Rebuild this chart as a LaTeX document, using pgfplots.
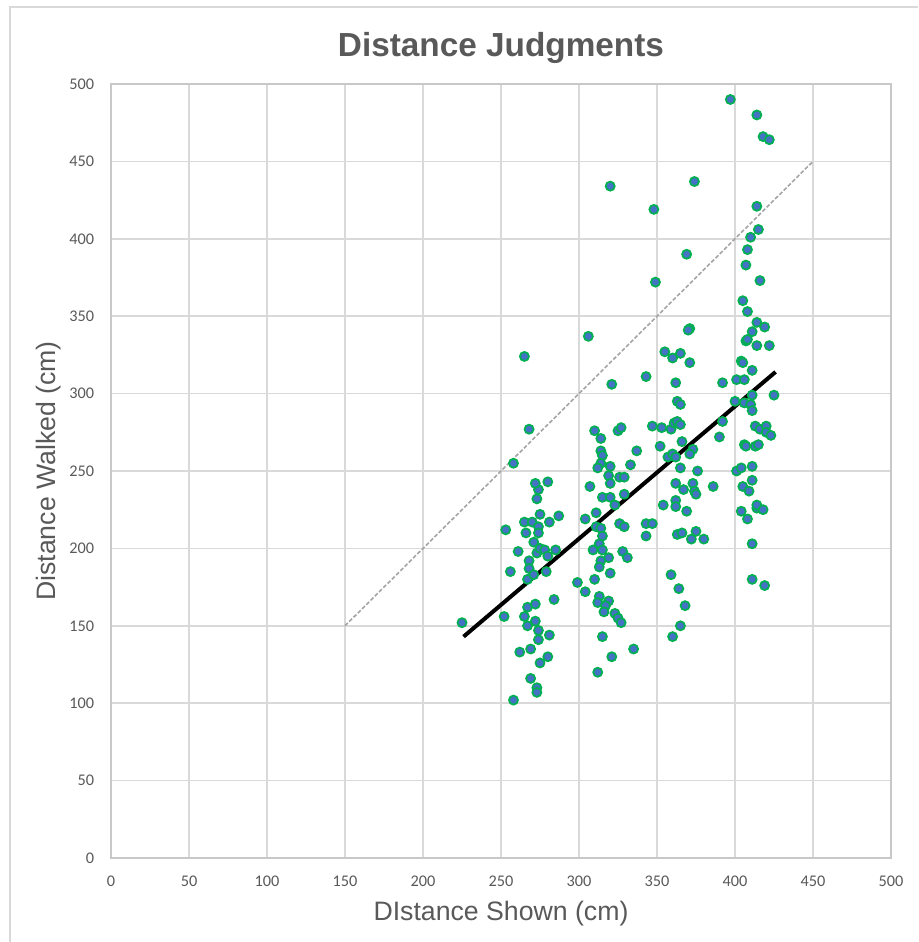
\documentclass[border=0pt]{standalone}
\usepackage{pgfplots}
\pgfplotsset{compat=1.18}
\usepackage{fontspec}
\setmainfont{Carlito}
\newfontfamily\arialf{Liberation Sans}
\definecolor{txt}{HTML}{595959}
\definecolor{gridc}{HTML}{D9D9D9}
\definecolor{axc}{HTML}{C8C8C8}
\definecolor{mfill}{HTML}{4472C4}
\definecolor{medge}{HTML}{00B050}
\definecolor{dashc}{HTML}{A5A5A5}
\begin{document}
\begin{tikzpicture}
\useasboundingbox (-83.25pt,-63pt) rectangle (605.25pt,643.5pt);
\begin{axis}[
  at={(0,0)}, anchor=south west,
  scale only axis, width=585pt, height=580.5pt,
  xmin=0, xmax=500, ymin=0, ymax=500,
  xtick={0,50,...,500}, ytick={0,50,...,500},
  grid=major, major grid style={gridc, line width=1.3pt},
  axis line style={axc, line width=1.3pt},
  major tick length=0pt,
  tick label style={font=\fontsize{12.2pt}{14pt}\selectfont, text=txt},
  /pgf/number format/assume math mode=true,
  xticklabel style={anchor=center, inner sep=0pt, yshift=-17.25pt},
  yticklabel style={anchor=east, inner sep=0pt, xshift=-12.5pt},
  title={Distance Judgments},
  title style={at={(axis description cs:0.5,1.0353)}, anchor=base, yshift=-6pt, font=\arialf\fontsize{25pt}{30pt}\selectfont\bfseries, text=txt},
  xlabel={DIstance Shown (cm)},
  ylabel={Distance Walked (cm)},
  xlabel style={at={(axis description cs:0.5,-0.081)}, anchor=base, font=\arialf\fontsize{20pt}{24pt}\selectfont, text=txt},
  ylabel style={at={(axis description cs:-0.0795,0.5)}, anchor=center, font=\arialf\fontsize{20pt}{24pt}\selectfont, text=txt},
  clip=false,
]
\addplot[dashc, line width=1.2pt, dash pattern=on 3pt off 1.5pt] coordinates {(150,150) (450,450)};
\addplot[only marks, mark=*, mark size=3.4pt, mark options={fill=mfill, draw=medge, line width=1.3pt}] table {
x y
225 152
253 212
256 185
252 156
261 198
258 102
262 133
265 217
270 217
266 210
271 204
273 197
268 192
268 187
267 180
271 183
275 222
273 232
274 238
272 242
280 243
281 217
287 221
274 214
274 210
275 200
278 199
280 195
285 199
279 185
284 167
267 162
272 164
265 156
272 153
267 150
274 147
274 141
281 144
269 135
275 126
280 130
269 116
273 110
273 107
268 277
265 324
258 255
299 178
304 172
304 219
309 199
310 180
307 240
311 223
312 120
306 337
321 306
320 434
310 276
314 271
325 276
327 278
314 263
315 260
314 255
312 252
320 253
337 263
333 254
319 247
320 242
326 246
329 246
315 233
320 233
329 235
323 228
311 214
314 213
315 208
326 216
329 214
313 203
315 199
319 194
328 198
331 194
314 192
313 188
320 184
313 169
319 166
312 165
317 163
316 159
323 158
325 155
327 152
315 143
321 130
335 135
343 311
348 419
349 372
374 437
369 390
371 342
370 341
355 327
360 323
365 326
371 320
362 307
363 295
365 293
347 279
353 278
359 277
361 281
363 282
365 280
352 266
366 269
373 264
371 261
357 259
360 261
362 259
365 252
376 250
362 242
367 238
373 242
374 237
375 235
354 228
362 231
362 227
369 224
343 216
347 216
343 208
363 209
366 210
375 211
372 206
380 206
359 183
364 174
368 163
365 150
360 143
386 240
392 282
390 272
392 307
397 490
414 480
418 466
422 464
414 421
415 406
410 401
408 393
407 383
416 373
405 360
408 353
414 346
419 343
411 340
407 334
408 335
414 331
422 331
404 321
405 320
411 315
401 309
406 309
400 295
406 294
410 293
411 289
425 299
411 299
413 279
416 277
420 279
420 275
423 273
406 267
407 266
413 266
415 267
411 253
401 250
404 252
411 244
405 240
409 237
414 226
404 224
408 219
414 228
418 225
411 203
411 180
419 176
};
\addplot[black, line width=3pt] coordinates {(226,143) (426,314)};
\end{axis}
\draw[gridc, line width=1.5pt] (-75.75pt,-63pt) -- (-75.75pt,638.25pt) -- (605.25pt,638.25pt);
\end{tikzpicture}
\end{document}
